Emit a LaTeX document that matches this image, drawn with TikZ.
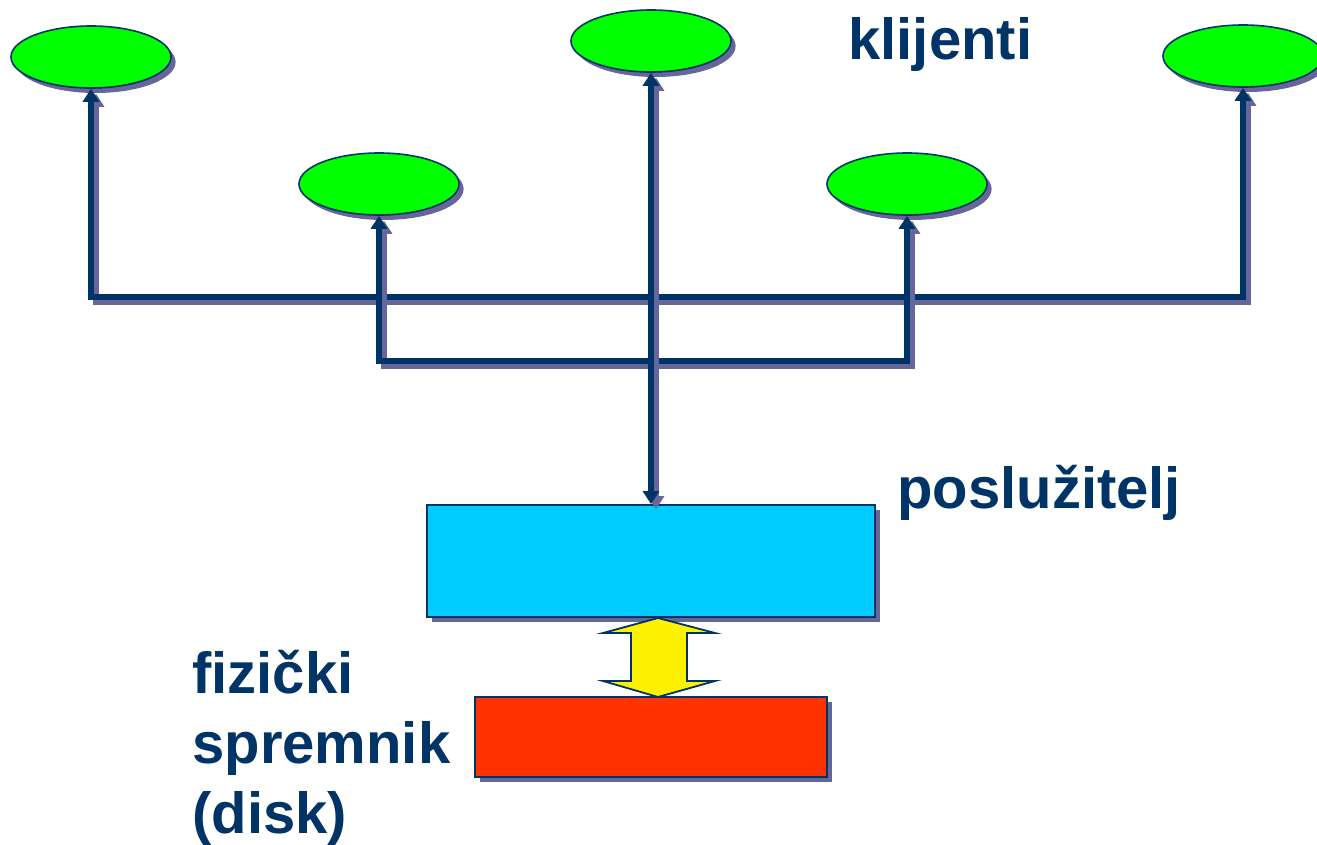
\documentclass[tikz,border=0pt]{standalone}
\usepackage{fontspec}
\setmainfont{Liberation Sans}
\usetikzlibrary{shapes.geometric,arrows.meta,shadows}
\definecolor{navy}{HTML}{003366}
\definecolor{shade}{HTML}{666699}
\definecolor{klgreen}{HTML}{00FF00}
\definecolor{srvblue}{HTML}{00CCFF}
\definecolor{diskred}{HTML}{FF3300}

\begin{document}
\begin{tikzpicture}[x=0.5pt,y=-0.5pt,
  client/.style={ellipse,draw=navy,line width=0.8pt,fill=klgreen,minimum width=80pt,minimum height=31pt,inner sep=0pt,
    drop shadow={shadow xshift=2.3pt,shadow yshift=-2.5pt,fill=shade,opacity=1}},
  box/.style={rectangle,draw=navy,line width=0.9pt,inner sep=0pt,
    drop shadow={shadow xshift=2.5pt,shadow yshift=-2.5pt,fill=shade,opacity=1}},
  link/.style={draw=navy,line width=3pt,{Triangle[width=8pt,length=6.5pt]}-{Triangle[width=8pt,length=6.5pt]},
    preaction={draw=shade,line width=3pt,transform canvas={shift={(2.5pt,-2.5pt)}}}},
  label/.style={text=navy,font=\fontsize{29}{35}\selectfont\bfseries,inner sep=0pt}]
\tikzstyle{yarrow} = [draw=navy,line width=0.9pt,fill=yellow,line join=miter]

\useasboundingbox (0,0) rectangle (1317,845);

% klijenti
\node[client] (c1) at (91,57) {};
\node[client] (c2) at (651,41) {};
\node[client] (c3) at (1243,56) {};
\node[client] (c4) at (379,184) {};
\node[client] (c5) at (907,184) {};

% posluzitelj i disk
\node[box,fill=srvblue,minimum width=224pt,minimum height=56pt] (server) at (651,561) {};
\node[box,fill=diskred,minimum width=176pt,minimum height=40pt] (disk) at (651,737) {};

% sabirnice
\coordinate (busA) at (651,297);
\coordinate (busB) at (651,361);
\draw[link] (c1.south) |- (busA) -| (c3.south);
\draw[link] (c4.south) |- (busB) -| (c5.south);
\draw[link] (c2.south) -- (server.north);

% dvostruka strelica
\coordinate (tA) at (658,618);
\coordinate (tB) at (658,697);
\draw[yarrow] (tA) -- ++(57,15) -- ++(-28,0) -- ++(0,48) -- ++(28,0) -- (tB)
  -- ++(-55,-16) -- ++(28,0) -- ++(0,-48) -- ++(-28,0) -- cycle;

% tekst
\node[label,anchor=base west] (tklijenti) at (848,60) {klijenti};
\node[label,anchor=base west] (tserver) at (897,508) {poslužitelj};
\node[label,anchor=base west,align=left] (tdisk) at (192,833) {fizički\\spremnik\\(disk)};

\end{tikzpicture}
\end{document}
